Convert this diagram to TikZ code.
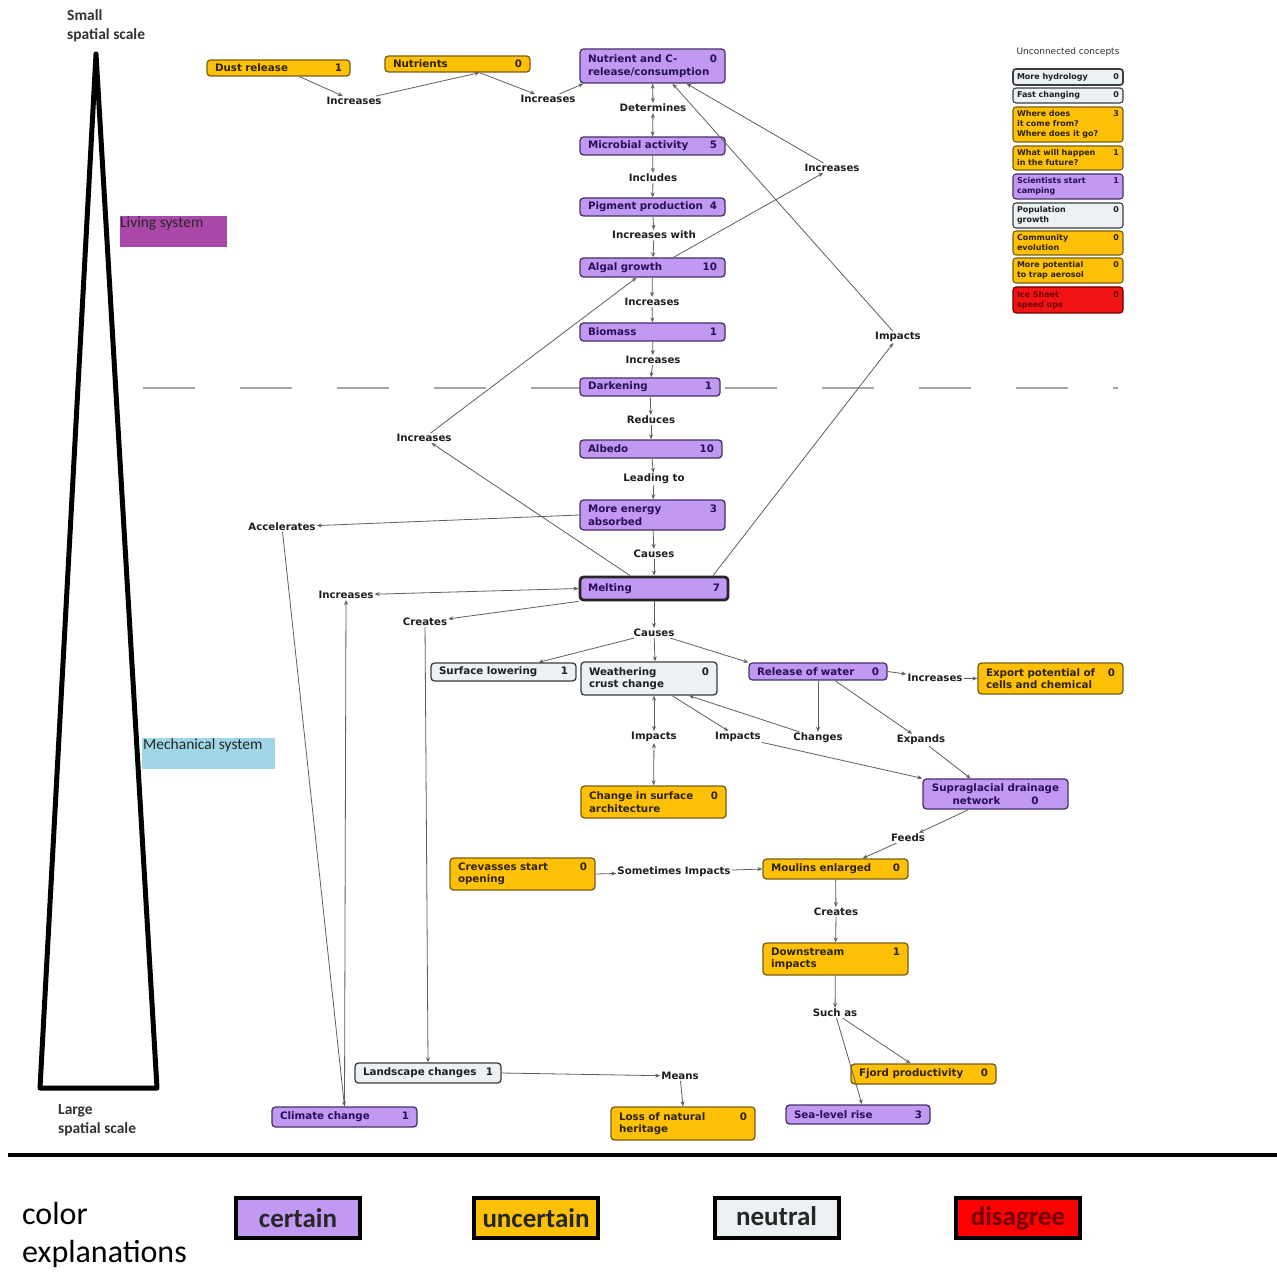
\documentclass[tikz,border=0pt]{standalone}
\usepackage{fontspec}
\setmainfont{DejaVu Sans}
\newfontfamily\fcar{Carlito}
\usetikzlibrary{arrows.meta}
\definecolor{cpur}{RGB}{193,152,242}
\definecolor{cpurdr}{RGB}{70,50,100}
\definecolor{cpurtx}{RGB}{40,15,85}
\definecolor{cyel}{RGB}{255,193,7}
\definecolor{cyeldr}{RGB}{120,95,20}
\definecolor{cyeltx}{RGB}{45,35,0}
\definecolor{cneu}{RGB}{236,241,244}
\definecolor{cneudr}{RGB}{60,60,65}
\definecolor{cneutx}{RGB}{30,30,30}
\definecolor{cred}{RGB}{240,20,20}
\definecolor{credtx}{RGB}{110,0,0}
\definecolor{lbltx}{RGB}{30,30,30}
\definecolor{conncol}{RGB}{95,95,95}
\definecolor{clive}{RGB}{170,72,170}
\definecolor{cmech}{RGB}{160,214,232}
\definecolor{txgray}{RGB}{50,50,50}
\newcommand\cnpad{16}
\newcommand\cn[7][]{%
  \pgfmathsetmacro\cnw{#5-#3}\pgfmathsetmacro\cnh{#6-#4}%
  \pgfmathsetmacro\cnx{(#3+#5)/2}\pgfmathsetmacro\cny{(#4+#6)/2}%
  \pgfmathsetmacro\cntw{#5-#3-\cnpad}%
  \node[#1, minimum width=\cnw pt, minimum height=\cnh pt, text width=\cntw pt] (#2) at (\cnx,\cny) {#7};}
\tikzset{
  cbase/.style={rectangle, rounded corners=3.5pt, line width=1.3pt, inner xsep=8pt, inner ysep=2pt, align=left, font=\fontsize{10.3}{12.5}\selectfont\bfseries},
  cpurn/.style={cbase, fill=cpur, draw=cpurdr, text=cpurtx},
  cyeln/.style={cbase, fill=cyel, draw=cyeldr, text=cyeltx},
  cneun/.style={cbase, fill=cneu, draw=cneudr, text=cneutx},
  credn/.style={cbase, fill=cred, draw=credtx, text=credtx},
  small/.style={inner xsep=4pt, inner ysep=1pt, rounded corners=3pt, line width=1.1pt, font=\fontsize{8}{10}\selectfont\bfseries},
  lbl/.style={font=\fontsize{10.2}{12}\selectfont\bfseries, text=lbltx, inner sep=1pt},
  conn/.style={draw=conncol, line width=0.8pt, -{Stealth[length=5pt,width=4pt]}},
  bconn/.style={draw=conncol, line width=0.8pt, {Stealth[length=5pt,width=4pt]}-{Stealth[length=5pt,width=4pt]}},
  legbox/.style={draw=black, line width=4pt, minimum width=124pt, minimum height=40pt, font=\fcar\bfseries\fontsize{27}{30}\selectfont},
  side/.style={font=\fcar\bfseries\fontsize{15.5}{19}\selectfont, text=txgray, align=left, inner sep=0pt}
}
\begin{document}
\begin{tikzpicture}[x=1pt,y=-1pt]
\fill[white] (0,0) rectangle (1277,1273);
\useasboundingbox (0,0) rectangle (1277,1273);
% scale triangle
\draw[line width=5pt, line join=round] (40,1088) -- (96,54) -- (157,1088) -- cycle;
\node[side, anchor=north west] (smallsc) at (67,9) {Small\\spatial scale};
\node[side, anchor=north west] (largesc) at (58,1104) {Large\\spatial scale};
% system boxes
\node[fill=clive, minimum width=107pt, minimum height=31pt, anchor=north west, inner sep=0pt] (living) at (120,216) {};
\node[anchor=north west, font=\fcar\fontsize{15.5}{17}\selectfont, text=black!85, inner sep=0pt] (livingt) at (120,217) {Living system};
\node[fill=cmech, minimum width=133pt, minimum height=31pt, anchor=north west, inner sep=0pt] (mech) at (142,738) {};
\node[anchor=north west, font=\fcar\fontsize{15.5}{17}\selectfont, text=black!85, inner sep=0pt] (mecht) at (143,739) {Mechanical system};
% dashed divider
\draw[gray!70, line width=1.5pt, dash pattern=on 52pt off 45pt] (143,388) -- (1118,388);
% bottom rule
\draw[line width=4pt] (8,1155) -- (1277,1155);
% concepts
\cn[cyeln]{dust}{207}{60}{350}{76}{Dust release\hfill 1}
\cn[cyeln]{nutr}{385}{56}{530}{72}{Nutrients\hfill 0}
\cn[cpurn]{nutc}{580}{49}{725}{83}{Nutrient and C-\hfill 0\\release/consumption}
\cn[cpurn]{micro}{580}{137}{725}{155}{Microbial activity\hfill 5}
\cn[cpurn]{pigm}{580}{198}{725}{216}{Pigment production\hfill 4}
\cn[cpurn]{algal}{580}{258}{725}{277}{Algal growth\hfill 10}
\cn[cpurn]{bio}{580}{323}{725}{341}{Biomass\hfill 1}
\cn[cpurn]{dark}{580}{378}{720}{396}{Darkening\hfill 1}
\cn[cpurn]{albedo}{580}{440}{722}{458}{Albedo\hfill 10}
\cn[cpurn]{energy}{580}{500}{725}{530}{More energy\hfill 3\\absorbed}
\cn[cpurn, line width=2.8pt, draw=black!85]{melt}{580}{577}{728}{600}{Melting\hfill 7}
\cn[cneun]{surf}{431}{663}{576}{681}{Surface lowering\hfill 1}
\cn[cneun]{weath}{581}{662}{717}{695}{Weathering\hfill 0\\crust change}
\cn[cpurn]{rel}{749}{663}{887}{680}{Release of water\hfill 0}
\cn[cyeln]{export}{978}{663}{1123}{694}{Export potential of\hfill 0\\cells and chemical}
\cn[cyeln]{change}{581}{786}{726}{818}{Change in surface\hfill 0\\architecture}
\cn[cpurn, align=center]{supra}{923}{779}{1068}{809}{Supraglacial drainage\\network\hspace{3em}0}
\cn[cyeln]{crev}{450}{858}{595}{890}{Crevasses start\hfill 0\\opening}
\cn[cyeln]{moul}{763}{859}{908}{879}{Moulins enlarged\hfill 0}
\cn[cyeln]{down}{763}{943}{908}{975}{Downstream\hfill 1\\impacts}
\cn[cyeln]{fjord}{851}{1064}{996}{1084}{Fjord productivity\hfill 0}
\cn[cpurn]{sea}{786}{1105}{930}{1124}{Sea-level rise\hfill 3}
\cn[cneun]{land}{355}{1063}{501}{1083}{Landscape changes\hfill 1}
\cn[cyeln]{loss}{611}{1107}{755}{1140}{Loss of natural\hfill 0\\heritage}
\cn[cpurn]{clim}{272}{1107}{417}{1127}{Climate change\hfill 1}
% unconnected concepts
\node[font=\fontsize{9}{11}\selectfont, text=txgray] (utitle) at (1068,52) {Unconnected concepts};
\renewcommand\cnpad{8}
\cn[cneun, small, line width=1.7pt]{uhyd}{1013}{69}{1123}{85}{More hydrology\hfill 0}
\cn[cneun, small]{ufast}{1013}{88}{1123}{103}{Fast changing\hfill 0}
\cn[cyeln, small]{uwhere}{1013}{107}{1123}{142}{Where does\hfill 3\\it come from?\\Where does it go?}
\cn[cyeln, small]{uwhat}{1013}{146}{1123}{170}{What will happen\hfill 1\\in the future?}
\cn[cpurn, small]{usci}{1013}{174}{1123}{199}{Scientists start\hfill 1\\camping}
\cn[cneun, small]{upop}{1013}{203}{1123}{228}{Population\hfill 0\\growth}
\cn[cyeln, small]{ucomm}{1013}{231}{1123}{255}{Community\hfill 0\\evolution}
\cn[cyeln, small]{upot}{1013}{258}{1123}{283}{More potential\hfill 0\\to trap aerosol}
\cn[credn, small]{uice}{1013}{287}{1123}{313}{Ice Sheet\hfill 0\\speed ups}
% link labels
\node[lbl] (inc1) at (354,101) {Increases};
\node[lbl] (inc2) at (548,99) {Increases};
\node[lbl] (det) at (653,108) {Determines};
\node[lbl] (incl) at (653,178) {Includes};
\node[lbl] (incw) at (654,235) {Increases with};
\node[lbl] (inc3) at (652,302) {Increases};
\node[lbl] (inc4) at (653,360) {Increases};
\node[lbl] (red) at (651,420) {Reduces};
\node[lbl] (lead) at (654,479) {Leading to};
\node[lbl] (caus1) at (654,554) {Causes};
\node[lbl] (inc5) at (832,168) {Increases};
\node[lbl] (imp1) at (898,337) {Impacts};
\node[lbl] (inc6) at (424,438) {Increases};
\node[lbl] (acc) at (282,527) {Accelerates};
\node[lbl] (inc7) at (346,595) {Increases};
\node[lbl] (cre1) at (425,622) {Creates};
\node[lbl] (caus2) at (654,633) {Causes};
\node[lbl] (inc8) at (935,678) {Increases};
\node[lbl] (imp2) at (654,737) {Impacts};
\node[lbl] (imp3) at (738,737) {Impacts};
\node[lbl] (chg) at (818,738) {Changes};
\node[lbl] (exp) at (921,740) {Expands};
\node[lbl] (feeds) at (908,838) {Feeds};
\node[lbl] (some) at (674,872) {Sometimes Impacts};
\node[lbl] (cre2) at (836,912) {Creates};
\node[lbl] (such) at (835,1013) {Such as};
\node[lbl] (means) at (680,1076) {Means};
% connectors
\draw[conn] ([xshift=21pt]dust.south) -- (inc1);
\draw[conn] (inc1) -- ([xshift=22pt]nutr.south);
\draw[conn] ([xshift=22pt]nutr.south) -- (inc2);
\draw[conn] (inc2) -- ([xshift=4pt]nutc.south west);
\draw[bconn] (nutc) -- (det);
\draw[bconn] (det) -- (micro);
\draw[conn] (micro) -- (incl);
\draw[conn] (incl) -- (pigm);
\draw[conn] (pigm) -- (incw);
\draw[conn] (incw) -- (algal);
\draw[conn] (algal) -- (inc3);
\draw[conn] (inc3) -- (bio);
\draw[conn] (bio) -- (inc4);
\draw[conn] (inc4) -- (dark);
\draw[conn] (dark) -- (red);
\draw[conn] (red) -- (albedo);
\draw[conn] (albedo) -- (lead);
\draw[conn] (lead) -- (energy);
\draw[conn] (energy) -- (caus1);
\draw[conn] (caus1) -- (melt);
\draw[conn] (melt) -- (caus2);
\draw[conn] (caus2) -- ([xshift=35pt]surf.north);
\draw[conn] (caus2) -- ([xshift=6pt]weath.north);
\draw[conn] (caus2) -- (rel.north west);
\draw[conn] ([xshift=21pt]algal.north) -- (inc5);
\draw[conn] (inc5) -- ([xshift=34pt]nutc.south);
\draw[conn] ([xshift=59pt]melt.north) -- (imp1);
\draw[conn] (imp1) -- ([xshift=20pt]nutc.south);
\draw[conn] ([xshift=-24pt]melt.north) -- (inc6);
\draw[conn] (inc6) -- ([xshift=-16pt]algal.south);
\draw[conn] (energy.west) -- (acc);
\draw[conn] (acc) -- (clim.north);
\draw[conn] (clim.north) -- (inc7);
\draw[bconn] (inc7) -- (melt.west);
\draw[conn] (melt.south west) -- (cre1);
\draw[conn] (cre1) -- (land.north);
\draw[conn] (rel.east) -- (inc8);
\draw[conn] (inc8) -- (export.west);
\draw[conn] (rel.south) -- (chg);
\draw[conn] (chg) -- ([xshift=40pt]weath.south);
\draw[conn] ([xshift=17pt]rel.south) -- (exp);
\draw[conn] (exp) -- ([xshift=-25pt]supra.north);
\draw[bconn] ([xshift=5pt]weath.south) -- (imp2);
\draw[bconn] (imp2) -- (change);
\draw[conn] ([xshift=23pt]weath.south) -- (imp3);
\draw[conn] (imp3) -- (supra.north west);
\draw[conn] ([xshift=-27pt]supra.south) -- (feeds);
\draw[conn] (feeds) -- ([xshift=27pt]moul.north);
\draw[conn] (crev.east) -- (some);
\draw[conn] (some) -- (moul.west);
\draw[conn] (moul) -- (cre2);
\draw[conn] (cre2) -- (down);
\draw[conn] (down) -- (such);
\draw[conn] (such) -- ([xshift=-13pt]fjord.north);
\draw[conn] (such) -- ([xshift=4pt]sea.north);
\draw[conn] (land.east) -- (means);
\draw[conn] (means) -- (loss.north);
% legend
\node[anchor=north west, font=\fcar\fontsize{32}{38}\selectfont, text=black, align=left, inner sep=0pt] (colexp) at (22,1202) {color\\explanations};
\node[legbox, fill=cpur, text=black!85] (lcert) at (298,1218) {certain};
\node[legbox, fill=cyel, text=black!85] (lunc) at (536,1218) {uncertain};
\node[legbox, fill=cneu, text=black!85] (lneu) at (776.5,1218) {\raisebox{4pt}{neutral}};
\node[legbox, fill=red, text=credtx] (ldis) at (1018,1218) {disagree};
\end{tikzpicture}
\end{document}
